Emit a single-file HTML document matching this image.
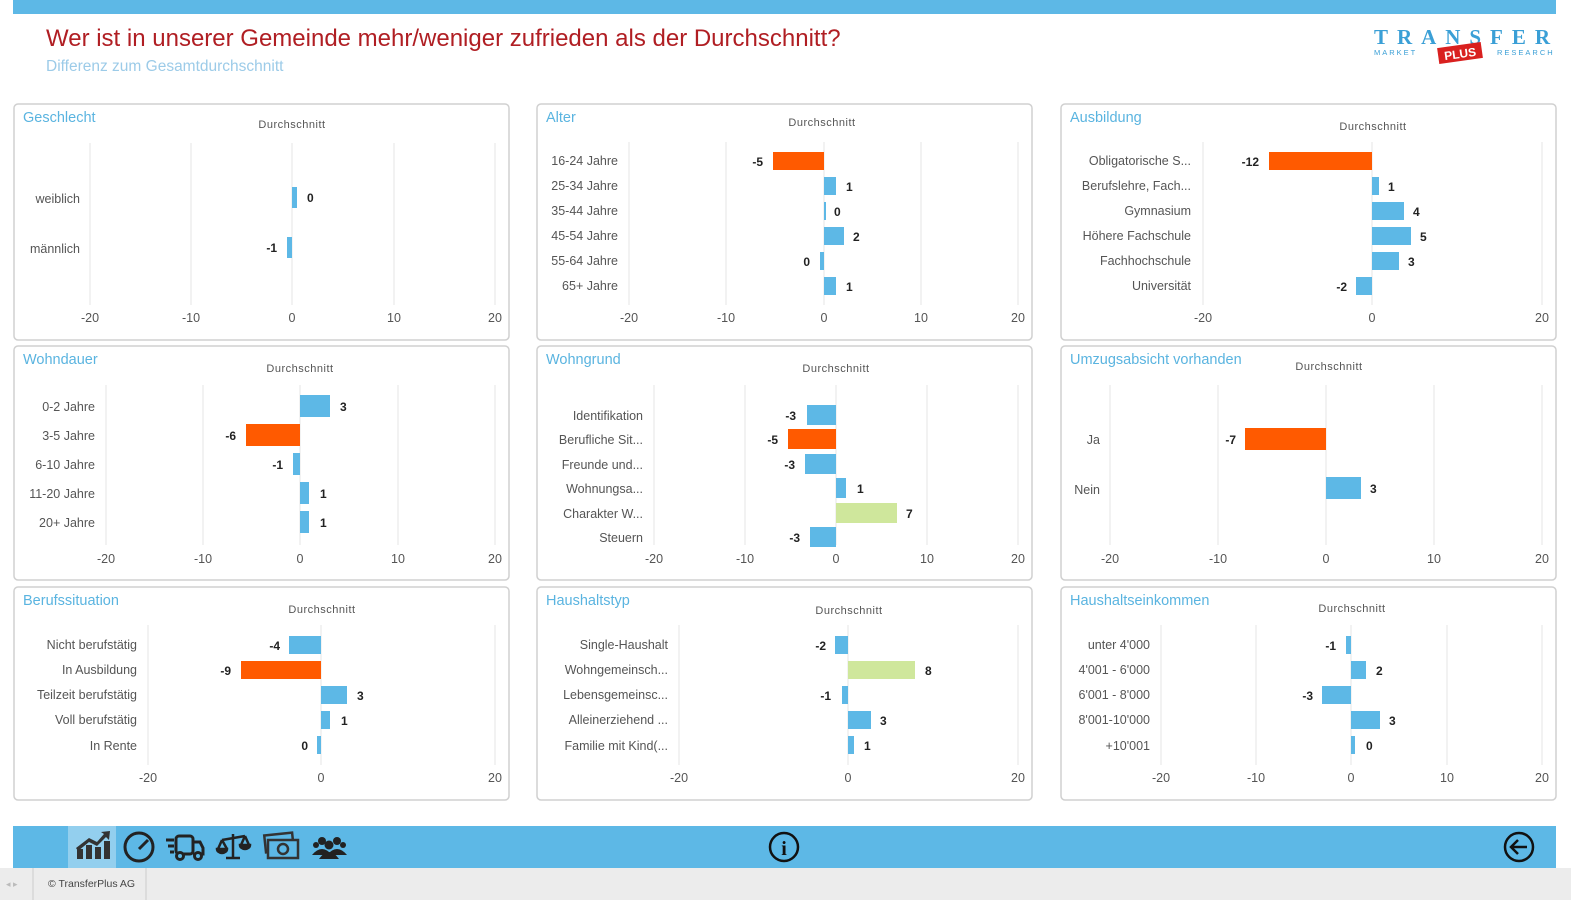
<!DOCTYPE html>
<html><head><meta charset="utf-8"><style>
body{margin:0;width:1571px;height:900px;overflow:hidden;background:#fff;font-family:"Liberation Sans",sans-serif}
svg{display:block}
.t{font-size:14.5px;fill:#5ab4e0}
.d{font-size:11px;fill:#555;text-anchor:middle;letter-spacing:.5px}
.c{font-size:12.5px;fill:#555;text-anchor:end}
.k{font-size:12.5px;fill:#555;text-anchor:middle}
.v{font-size:12px;fill:#222;font-weight:bold}
.n{font-size:12px;fill:#222;font-weight:bold;text-anchor:end}
.g{stroke:#e6e6e6;stroke-width:1}
.p{fill:#fff;stroke:#d0d0d0;stroke-width:1.5}
.b{fill:#5DB8E6}.o{fill:#FF5A00}.y{fill:#CFE79C}
</style></head><body>
<svg width="1571" height="900" viewBox="0 0 1571 900">
<rect x="13" y="0" width="1543" height="14" fill="#5DB8E6"/>
<text x="46" y="46" font-size="24" fill="#B01E23">Wer ist in unserer Gemeinde mehr/weniger zufrieden als der Durchschnitt?</text>
<text x="46" y="71" font-size="15.5" fill="#9ccbe8">Differenz zum Gesamtdurchschnitt</text>
<text x="1374" y="44" font-size="21" fill="#3a9fd6" font-family="Liberation Serif" font-weight="bold" textLength="176" lengthAdjust="spacing">TRANSFER</text>
<text x="1374" y="55" font-size="7.5" fill="#3a9fd6" letter-spacing="2">MARKET</text>
<text x="1497" y="55" font-size="7.5" fill="#3a9fd6" letter-spacing="2">RESEARCH</text>
<g transform="rotate(-8 1460 53)"><rect x="1438" y="45" width="44" height="16" fill="#d9201f"/><text x="1460" y="58" font-size="12" fill="#fff" font-weight="bold" text-anchor="middle">PLUS</text></g>

<rect class="p" x="14" y="104" width="495" height="236" rx="4"/>
<rect class="p" x="537" y="104" width="495" height="236" rx="4"/>
<rect class="p" x="1061" y="104" width="495" height="236" rx="4"/>
<rect class="p" x="14" y="346" width="495" height="234" rx="4"/>
<rect class="p" x="537" y="346" width="495" height="234" rx="4"/>
<rect class="p" x="1061" y="346" width="495" height="234" rx="4"/>
<rect class="p" x="14" y="587" width="495" height="213" rx="4"/>
<rect class="p" x="537" y="587" width="495" height="213" rx="4"/>
<rect class="p" x="1061" y="587" width="495" height="213" rx="4"/>

<text class="t" x="23" y="122">Geschlecht</text><text class="d" x="292" y="128">Durchschnitt</text>
<g class="g"><line x1="90" y1="143" x2="90" y2="305"/><line x1="191" y1="143" x2="191" y2="305"/><line x1="292" y1="143" x2="292" y2="305"/><line x1="394" y1="143" x2="394" y2="305"/><line x1="495" y1="143" x2="495" y2="305"/></g>
<text class="k" x="90" y="322">-20</text><text class="k" x="191" y="322">-10</text><text class="k" x="292" y="322">0</text><text class="k" x="394" y="322">10</text><text class="k" x="495" y="322">20</text>
<text class="c" x="80" y="203">weiblich</text><text class="c" x="80" y="253">männlich</text>
<rect class="b" x="292" y="187" width="5" height="21"/><text class="v" x="307" y="202">0</text>
<rect class="b" x="287" y="237" width="5" height="21"/><text class="n" x="277" y="252">-1</text>

<text class="t" x="546" y="122">Alter</text><text class="d" x="822" y="126">Durchschnitt</text>
<g class="g"><line x1="629" y1="142" x2="629" y2="305"/><line x1="726" y1="142" x2="726" y2="305"/><line x1="824" y1="142" x2="824" y2="305"/><line x1="921" y1="142" x2="921" y2="305"/><line x1="1018" y1="142" x2="1018" y2="305"/></g>
<text class="k" x="629" y="322">-20</text><text class="k" x="726" y="322">-10</text><text class="k" x="824" y="322">0</text><text class="k" x="921" y="322">10</text><text class="k" x="1018" y="322">20</text>
<text class="c" x="618" y="165">16-24 Jahre</text><text class="c" x="618" y="190">25-34 Jahre</text><text class="c" x="618" y="215">35-44 Jahre</text><text class="c" x="618" y="240">45-54 Jahre</text><text class="c" x="618" y="265">55-64 Jahre</text><text class="c" x="618" y="290">65+ Jahre</text>
<rect class="o" x="773" y="152" width="51" height="18"/><text class="n" x="763" y="166">-5</text>
<rect class="b" x="824" y="177" width="12" height="18"/><text class="v" x="846" y="191">1</text>
<rect class="b" x="824" y="202" width="2" height="18"/><text class="v" x="834" y="216">0</text>
<rect class="b" x="824" y="227" width="20" height="18"/><text class="v" x="853" y="241">2</text>
<rect class="b" x="820" y="252" width="4" height="18"/><text class="n" x="810" y="266">0</text>
<rect class="b" x="824" y="277" width="12" height="18"/><text class="v" x="846" y="291">1</text>

<text class="t" x="1070" y="122">Ausbildung</text><text class="d" x="1373" y="130">Durchschnitt</text>
<g class="g"><line x1="1203" y1="142" x2="1203" y2="305"/><line x1="1372" y1="142" x2="1372" y2="305"/><line x1="1542" y1="142" x2="1542" y2="305"/></g>
<text class="k" x="1203" y="322">-20</text><text class="k" x="1372" y="322">0</text><text class="k" x="1542" y="322">20</text>
<text class="c" x="1191" y="165">Obligatorische S...</text><text class="c" x="1191" y="190">Berufslehre, Fach...</text><text class="c" x="1191" y="215">Gymnasium</text><text class="c" x="1191" y="240">Höhere Fachschule</text><text class="c" x="1191" y="265">Fachhochschule</text><text class="c" x="1191" y="290">Universität</text>
<rect class="o" x="1269" y="152" width="103" height="18"/><text class="n" x="1259" y="166">-12</text>
<rect class="b" x="1372" y="177" width="7" height="18"/><text class="v" x="1388" y="191">1</text>
<rect class="b" x="1372" y="202" width="32" height="18"/><text class="v" x="1413" y="216">4</text>
<rect class="b" x="1372" y="227" width="39" height="18"/><text class="v" x="1420" y="241">5</text>
<rect class="b" x="1372" y="252" width="27" height="18"/><text class="v" x="1408" y="266">3</text>
<rect class="b" x="1356" y="277" width="16" height="18"/><text class="n" x="1347" y="291">-2</text>

<text class="t" x="23" y="364">Wohndauer</text><text class="d" x="300" y="372">Durchschnitt</text>
<g class="g"><line x1="106" y1="385" x2="106" y2="545"/><line x1="203" y1="385" x2="203" y2="545"/><line x1="300" y1="385" x2="300" y2="545"/><line x1="398" y1="385" x2="398" y2="545"/><line x1="495" y1="385" x2="495" y2="545"/></g>
<text class="k" x="106" y="563">-20</text><text class="k" x="203" y="563">-10</text><text class="k" x="300" y="563">0</text><text class="k" x="398" y="563">10</text><text class="k" x="495" y="563">20</text>
<text class="c" x="95" y="411">0-2 Jahre</text><text class="c" x="95" y="440">3-5 Jahre</text><text class="c" x="95" y="469">6-10 Jahre</text><text class="c" x="95" y="498">11-20 Jahre</text><text class="c" x="95" y="527">20+ Jahre</text>
<rect class="b" x="300" y="395" width="30" height="22"/><text class="v" x="340" y="411">3</text>
<rect class="o" x="246" y="424" width="54" height="22"/><text class="n" x="236" y="440">-6</text>
<rect class="b" x="293" y="453" width="7" height="22"/><text class="n" x="283" y="469">-1</text>
<rect class="b" x="300" y="482" width="9" height="22"/><text class="v" x="320" y="498">1</text>
<rect class="b" x="300" y="511" width="9" height="22"/><text class="v" x="320" y="527">1</text>

<text class="t" x="546" y="364">Wohngrund</text><text class="d" x="836" y="372">Durchschnitt</text>
<g class="g"><line x1="654" y1="385" x2="654" y2="545"/><line x1="745" y1="385" x2="745" y2="545"/><line x1="836" y1="385" x2="836" y2="545"/><line x1="927" y1="385" x2="927" y2="545"/><line x1="1018" y1="385" x2="1018" y2="545"/></g>
<text class="k" x="654" y="563">-20</text><text class="k" x="745" y="563">-10</text><text class="k" x="836" y="563">0</text><text class="k" x="927" y="563">10</text><text class="k" x="1018" y="563">20</text>
<text class="c" x="643" y="420">Identifikation</text><text class="c" x="643" y="444">Berufliche Sit...</text><text class="c" x="643" y="469">Freunde und...</text><text class="c" x="643" y="493">Wohnungsa...</text><text class="c" x="643" y="518">Charakter W...</text><text class="c" x="643" y="542">Steuern</text>
<rect class="b" x="807" y="405" width="29" height="20"/><text class="n" x="796" y="420">-3</text>
<rect class="o" x="788" y="429" width="48" height="20"/><text class="n" x="778" y="444">-5</text>
<rect class="b" x="805" y="454" width="31" height="20"/><text class="n" x="795" y="469">-3</text>
<rect class="b" x="836" y="478" width="10" height="20"/><text class="v" x="857" y="493">1</text>
<rect class="y" x="836" y="503" width="61" height="20"/><text class="v" x="906" y="518">7</text>
<rect class="b" x="810" y="527" width="26" height="20"/><text class="n" x="800" y="542">-3</text>

<text class="t" x="1070" y="364">Umzugsabsicht vorhanden</text><text class="d" x="1329" y="370">Durchschnitt</text>
<g class="g"><line x1="1110" y1="385" x2="1110" y2="545"/><line x1="1218" y1="385" x2="1218" y2="545"/><line x1="1326" y1="385" x2="1326" y2="545"/><line x1="1434" y1="385" x2="1434" y2="545"/><line x1="1542" y1="385" x2="1542" y2="545"/></g>
<text class="k" x="1110" y="563">-20</text><text class="k" x="1218" y="563">-10</text><text class="k" x="1326" y="563">0</text><text class="k" x="1434" y="563">10</text><text class="k" x="1542" y="563">20</text>
<text class="c" x="1100" y="444">Ja</text><text class="c" x="1100" y="494">Nein</text>
<rect class="o" x="1245" y="428" width="81" height="22"/><text class="n" x="1236" y="444">-7</text>
<rect class="b" x="1326" y="477" width="35" height="22"/><text class="v" x="1370" y="493">3</text>

<text class="t" x="23" y="605">Berufssituation</text><text class="d" x="322" y="613">Durchschnitt</text>
<g class="g"><line x1="148" y1="625" x2="148" y2="765"/><line x1="321" y1="625" x2="321" y2="765"/><line x1="495" y1="625" x2="495" y2="765"/></g>
<text class="k" x="148" y="782">-20</text><text class="k" x="321" y="782">0</text><text class="k" x="495" y="782">20</text>
<text class="c" x="137" y="649">Nicht berufstätig</text><text class="c" x="137" y="674">In Ausbildung</text><text class="c" x="137" y="699">Teilzeit berufstätig</text><text class="c" x="137" y="724">Voll berufstätig</text><text class="c" x="137" y="750">In Rente</text>
<rect class="b" x="289" y="636" width="32" height="18"/><text class="n" x="280" y="650">-4</text>
<rect class="o" x="241" y="661" width="80" height="18"/><text class="n" x="231" y="675">-9</text>
<rect class="b" x="321" y="686" width="26" height="18"/><text class="v" x="357" y="700">3</text>
<rect class="b" x="321" y="711" width="9" height="18"/><text class="v" x="341" y="725">1</text>
<rect class="b" x="317" y="736" width="4" height="18"/><text class="n" x="308" y="750">0</text>

<text class="t" x="546" y="605">Haushaltstyp</text><text class="d" x="849" y="614">Durchschnitt</text>
<g class="g"><line x1="679" y1="625" x2="679" y2="765"/><line x1="848" y1="625" x2="848" y2="765"/><line x1="1018" y1="625" x2="1018" y2="765"/></g>
<text class="k" x="679" y="782">-20</text><text class="k" x="848" y="782">0</text><text class="k" x="1018" y="782">20</text>
<text class="c" x="668" y="649">Single-Haushalt</text><text class="c" x="668" y="674">Wohngemeinsch...</text><text class="c" x="668" y="699">Lebensgemeinsc...</text><text class="c" x="668" y="724">Alleinerziehend ...</text><text class="c" x="668" y="750">Familie mit Kind(...</text>
<rect class="b" x="835" y="636" width="13" height="18"/><text class="n" x="826" y="650">-2</text>
<rect class="y" x="848" y="661" width="67" height="18"/><text class="v" x="925" y="675">8</text>
<rect class="b" x="842" y="686" width="6" height="18"/><text class="n" x="831" y="700">-1</text>
<rect class="b" x="848" y="711" width="23" height="18"/><text class="v" x="880" y="725">3</text>
<rect class="b" x="848" y="736" width="6" height="18"/><text class="v" x="864" y="750">1</text>

<text class="t" x="1070" y="605">Haushaltseinkommen</text><text class="d" x="1352" y="612">Durchschnitt</text>
<g class="g"><line x1="1161" y1="625" x2="1161" y2="765"/><line x1="1256" y1="625" x2="1256" y2="765"/><line x1="1351" y1="625" x2="1351" y2="765"/><line x1="1447" y1="625" x2="1447" y2="765"/><line x1="1542" y1="625" x2="1542" y2="765"/></g>
<text class="k" x="1161" y="782">-20</text><text class="k" x="1256" y="782">-10</text><text class="k" x="1351" y="782">0</text><text class="k" x="1447" y="782">10</text><text class="k" x="1542" y="782">20</text>
<text class="c" x="1150" y="649">unter 4'000</text><text class="c" x="1150" y="674">4'001 - 6'000</text><text class="c" x="1150" y="699">6'001 - 8'000</text><text class="c" x="1150" y="724">8'001-10'000</text><text class="c" x="1150" y="750">+10'001</text>
<rect class="b" x="1346" y="636" width="5" height="18"/><text class="n" x="1336" y="650">-1</text>
<rect class="b" x="1351" y="661" width="15" height="18"/><text class="v" x="1376" y="675">2</text>
<rect class="b" x="1322" y="686" width="29" height="18"/><text class="n" x="1313" y="700">-3</text>
<rect class="b" x="1351" y="711" width="29" height="18"/><text class="v" x="1389" y="725">3</text>
<rect class="b" x="1351" y="736" width="4" height="18"/><text class="v" x="1366" y="750">0</text>

<rect x="13" y="826" width="1543" height="42" fill="#5DB8E6"/>
<rect x="68" y="826" width="48" height="42" fill="#93CFEE"/>
<g fill="#333"><rect x="77" y="849" width="6" height="10"/><rect x="86" y="845" width="6" height="14"/><rect x="95" y="847" width="6" height="12"/><rect x="104" y="841" width="6" height="18"/><path d="M76 848 L89 838 L97 842 L104 834 L101 832 L110 831 L109 840 L106 837 L97 846 L89 842 L78 851Z"/></g>
<circle cx="139" cy="847" r="14" fill="none" stroke="#222" stroke-width="3"/><line x1="139" y1="849" x2="148" y2="840" stroke="#222" stroke-width="3"/>
<g fill="none" stroke="#222" stroke-width="3"><rect x="176" y="836" width="17" height="18" rx="3"/><path d="M193 842 H200 L203 848 V854 H193"/><circle cx="180" cy="856" r="3.5" fill="#5DB8E6"/><circle cx="198" cy="856" r="3.5" fill="#5DB8E6"/><path d="M166 840h8M168 846h6M170 852h4"/></g>
<g fill="none" stroke="#222" stroke-width="2.5"><path d="M233 834 V857 M226 858 H240 M222 840 L245 836 M222 840 L218 849 M222 840 L227 849 M245 836 L241 845 M245 836 L249 845"/><path d="M217 849 a5 4 0 0 0 10 0Z M240 845 a5 4 0 0 0 10 0Z" fill="#222"/></g>
<g stroke="#333" stroke-width="2.5" fill="none"><rect x="265" y="834" width="28" height="17" transform="rotate(-6 279 842)"/><rect x="268" y="840" width="30" height="18" fill="#5DB8E6"/><circle cx="283" cy="849" r="5"/></g>
<g fill="#222"><circle cx="322" cy="841" r="4"/><circle cx="337" cy="841" r="4"/><circle cx="329" cy="845" r="4.5"/><path d="M312 855 q10 -12 20 0Z M327 855 q10 -12 20 0Z M319 859 q10 -14 20 0Z"/><circle cx="316" cy="845" r="3"/><circle cx="343" cy="845" r="3"/></g>
<circle cx="784" cy="847" r="14" fill="none" stroke="#111" stroke-width="2.5"/><text x="784" y="855" font-size="20" font-weight="bold" text-anchor="middle" fill="#111" font-family="Liberation Serif">i</text>
<circle cx="1519" cy="847" r="14" fill="none" stroke="#111" stroke-width="2.5"/><path d="M1527 847 H1511 M1518 840 L1511 847 L1518 854" fill="none" stroke="#111" stroke-width="2.5"/>

<rect x="0" y="868" width="1571" height="32" fill="#ececec"/>
<line x1="33" y1="868" x2="33" y2="900" stroke="#ccc"/><line x1="146" y1="868" x2="146" y2="900" stroke="#ccc"/>
<text x="6" y="887" font-size="9" fill="#bbb">◂ ▸</text>
<text x="48" y="887" font-size="10.5" fill="#444">© TransferPlus AG</text>
</svg>
</body></html>
